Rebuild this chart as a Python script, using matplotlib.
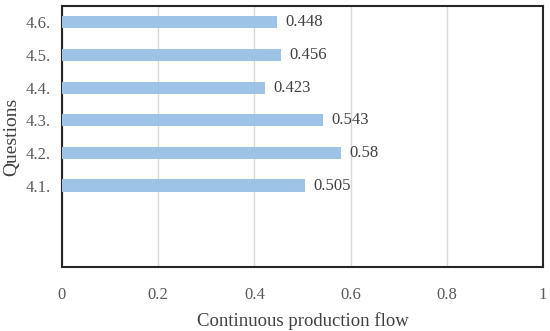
import matplotlib
matplotlib.use("Agg")
import matplotlib.pyplot as plt

categories = ["4.1.", "4.2.", "4.3.", "4.4.", "4.5.", "4.6."]
values = [0.505, 0.58, 0.543, 0.423, 0.456, 0.448]
xticks = [0, 0.2, 0.4, 0.6, 0.8, 1]
xtick_labels = ["0", "0.2", "0.4", "0.6", "0.8", "1"]

plt.rcParams['font.family'] = ['Liberation Serif', 'DejaVu Serif']

fig = plt.figure(figsize=(5.5, 3.31), dpi=100)
ax = fig.add_axes([0.1127, 0.193, 0.8745, 0.789])

pos = list(range(len(categories)))
ax.barh(pos, values, height=0.37, color="#9DC3E6", zorder=3)
for p, v in zip(pos, values):
    ax.text(v + 0.017, p, f"{v:g}", va="center", ha="left", fontsize=12, color="#404040", zorder=4)

ax.set_xlim(0, 1)
ax.set_ylim(-2.5, 5.5)
ax.set_xticks(xticks)
ax.set_xticklabels(xtick_labels)
ax.set_yticks(pos)
ax.set_yticklabels(categories)
ax.grid(axis="x", color="#D9D9D9", linewidth=1, zorder=0)
ax.tick_params(axis="both", length=0, labelsize=12, labelcolor="#595959")
ax.tick_params(axis="x", pad=14)
ax.tick_params(axis="y", pad=8)
for s in ax.spines.values():
    s.set_color("#262626")
    s.set_linewidth(1.5)
ax.set_xlabel("Continuous production flow", fontsize=13.5, color="#404040", labelpad=7)
ax.set_ylabel("Questions", fontsize=14, color="#404040", labelpad=4)

fig.savefig("out.png", dpi=100)
